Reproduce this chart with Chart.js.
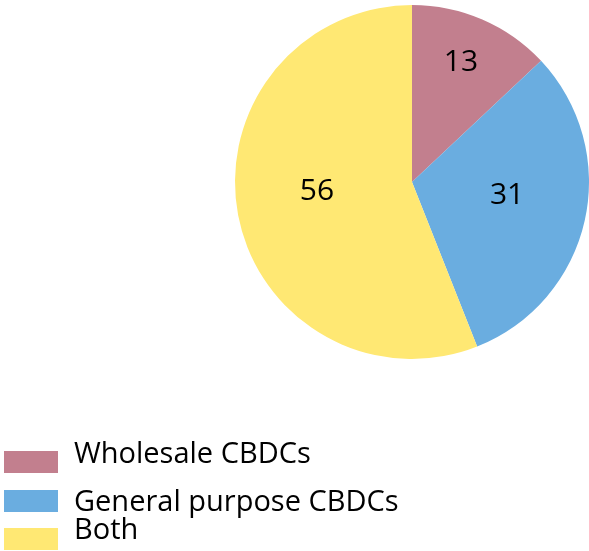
<!DOCTYPE html>
<html>
<head>
<meta charset="utf-8">
<script src="https://cdn.jsdelivr.net/npm/chart.js@4/dist/chart.umd.min.js"></script>
<style>
  html, body { margin: 0; padding: 0; background: #fff; }
  #wrap { width: 589px; height: 551px; position: relative; }
</style>
</head>
<body>
<div id="wrap"><canvas id="pie"></canvas></div>
<script>
const categories = ["Wholesale CBDCs", "General purpose CBDCs", "Both"];
const shares = [13, 31, 56];
const sliceColors = ["#C27F8E", "#6AADE0", "#FFE873"];

const FONT = "'Open Sans', 'Noto Sans', sans-serif";

// value labels inside the slices: where along the arc (0..1) and how far out (fraction of radius)
const sliceLabels = {
  id: "sliceLabels",
  afterDatasetsDraw(chart) {
    const ctx = chart.ctx;
    const meta = chart.getDatasetMeta(0);
    const along = [0.474, 0.457, 0.524];
    const radial = [0.732, 0.542, 0.54];
    ctx.save();
    ctx.font = "30px " + FONT;
    ctx.fillStyle = "#000";
    ctx.textAlign = "center";
    ctx.textBaseline = "middle";
    meta.data.forEach((arc, i) => {
      const a = arc.startAngle + (arc.endAngle - arc.startAngle) * along[i];
      const r = arc.outerRadius * radial[i];
      ctx.fillText(String(shares[i]), arc.x + Math.cos(a) * r, arc.y + Math.sin(a) * r);
    });
    ctx.restore();
  }
};

// legend stacked in the lower-left corner
const cornerLegend = {
  id: "cornerLegend",
  afterDraw(chart) {
    const ctx = chart.ctx;
    const boxTops = [451, 490, 528];
    const baselines = [463, 511, 539];
    ctx.save();
    ctx.font = "29px " + FONT;
    ctx.textBaseline = "alphabetic";
    chart.data.labels.forEach((label, i) => {
      ctx.fillStyle = chart.data.datasets[0].backgroundColor[i];
      ctx.fillRect(4, boxTops[i], 54, 22);
      ctx.fillStyle = "#000";
      ctx.fillText(label, 74, baselines[i]);
    });
    ctx.restore();
  }
};

new Chart(document.getElementById("pie"), {
  type: "pie",
  data: {
    labels: categories,
    datasets: [{
      data: shares,
      backgroundColor: sliceColors,
      borderWidth: 0
    }]
  },
  options: {
    responsive: true,
    maintainAspectRatio: false,
    animation: false,
    layout: { padding: { left: 235, right: 0, top: 5, bottom: 192 } },
    plugins: {
      legend: { display: false },
      tooltip: { enabled: false }
    }
  },
  plugins: [sliceLabels, cornerLegend]
});
</script>
</body>
</html>
